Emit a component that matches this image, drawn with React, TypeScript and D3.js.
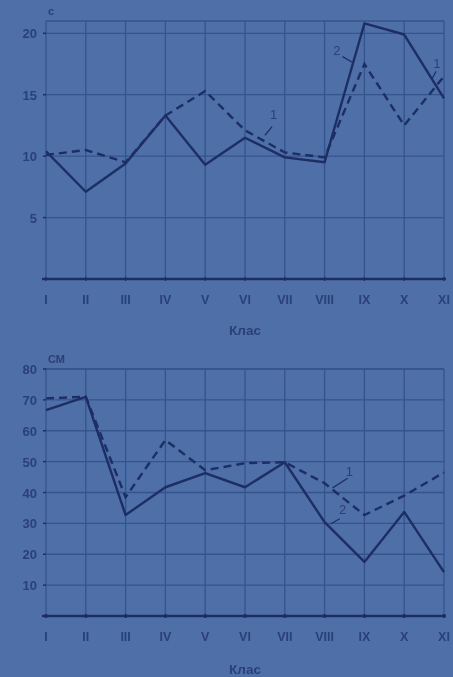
import React, { useEffect } from "react";
import * as d3 from "d3";

const classes = ["I", "II", "III", "IV", "V", "VI", "VII", "VIII", "IX", "X", "XI"];

// top chart: run time, seconds
const runTicks = [5, 10, 15, 20];
const runSeries1 = [10.1, 10.5, 9.5, 13.3, 15.3, 12.1, 10.3, 9.9, 17.5, 12.5, 16.5];
const runSeries2 = [10.4, 7.1, 9.4, 13.3, 9.3, 11.5, 9.9, 9.5, 20.8, 19.9, 14.7];

// bottom chart: jump, cm
const jumpTicks = [10, 20, 30, 40, 50, 60, 70, 80];
const jumpSeries1 = [70.5, 71, 38.5, 57, 47.2, 49.5, 49.8, 43, 32.7, 39, 46.5];
const jumpSeries2 = [66.7, 71, 32.7, 41.7, 46.3, 41.7, 49.8, 30.4, 17.5, 33.7, 14.2];

const BG = "#4e6fa8";
const GRID = "#36528d";
const INK = "#1d2e64";
const TXT = "#2b3f78";

interface Note {
  text: string;
  at: [number, number]; // [class index, value]
  from: [number, number];
  to: [number, number];
}

const runNotes: Note[] = [
  { text: "2", at: [7.31, 18.2], from: [7.45, 18.1], to: [7.72, 17.6] },
  { text: "1", at: [5.72, 13.0], from: [5.68, 12.4], to: [5.5, 11.7] },
  { text: "1", at: [9.82, 17.2], from: [9.8, 16.9], to: [9.7, 16.3] },
];
const jumpNotes: Note[] = [
  { text: "1", at: [7.62, 45.5], from: [7.58, 44.6], to: [7.2, 41.5] },
  { text: "2", at: [7.45, 33.0], from: [7.38, 31.5], to: [7.15, 29.8] },
];

interface PanelProps {
  top: number;
  bottom: number;
  yMax: number;
  ticks: number[];
  s1: number[];
  s2: number[];
  unit: string;
  notes: Note[];
  dots: boolean;
}

const Panel: React.FC<PanelProps> = ({ top, bottom, yMax, ticks, s1, s2, unit, notes, dots }) => {
  const x = d3.scaleLinear().domain([0, classes.length - 1]).range([46, 444]);
  const y = d3.scaleLinear().domain([0, yMax]).range([bottom, top]);
  const line = d3
    .line<number>()
    .x((_, i) => x(i))
    .y((d) => y(d));

  return (
    <g>
      {/* horizontal grid */}
      {[...ticks, yMax].map((t, i) => (
        <line key={"h" + i} x1={x(0)} x2={x(10)} y1={y(t)} y2={y(t)} stroke={GRID} strokeWidth={1.3} />
      ))}
      {/* vertical grid */}
      {classes.map((c, i) => (
        <line key={"v" + c} x1={x(i)} x2={x(i)} y1={y(yMax)} y2={y(0)} stroke={GRID} strokeWidth={1.3} />
      ))}
      {/* y ticks */}
      {ticks.map((t) => (
        <g key={"t" + t}>
          <line x1={x(0) - 3} x2={x(0)} y1={y(t)} y2={y(t)} stroke={INK} strokeWidth={1.5} />
          <text x={37} y={y(t) + 5} textAnchor="end" fontSize={13} fontWeight="bold" fill={TXT}>
            {t}
          </text>
        </g>
      ))}
      <text x={x(0) + 2} y={y(yMax) - 6} fontSize={11} fontWeight="bold" fill={TXT}>
        {unit}
      </text>
      {/* x axis */}
      <line x1={x(0) - 4} x2={x(10) + 2} y1={y(0)} y2={y(0)} stroke={INK} strokeWidth={2.4} />
      {classes.map((c, i) => (
        <g key={"x" + c}>
          {dots ? (
            <circle cx={x(i)} cy={y(0)} r={1.9} fill={INK} />
          ) : (
            <line x1={x(i)} x2={x(i)} y1={y(0) - 2} y2={y(0) + 2} stroke={INK} strokeWidth={1.3} />
          )}
          <text x={x(i)} y={y(0) + 25} textAnchor="middle" fontSize={12.5} fontWeight="bold" fill={TXT}>
            {c}
          </text>
        </g>
      ))}
      <text
        x={x(5)}
        y={y(0) + (dots ? 58 : 56)}
        textAnchor="middle"
        fontSize={13.5}
        fontWeight="bold"
        fill={TXT}
      >
        Клас
      </text>
      {/* series */}
      <path d={line(s1) ?? ""} fill="none" stroke={INK} strokeWidth={2.4} strokeDasharray="8 5" />
      <path d={line(s2) ?? ""} fill="none" stroke={INK} strokeWidth={2.4} strokeLinejoin="round" />
      {notes.map((n, i) => (
        <g key={"n" + i}>
          <line
            x1={x(n.from[0])}
            y1={y(n.from[1])}
            x2={x(n.to[0])}
            y2={y(n.to[1])}
            stroke={INK}
            strokeWidth={1.2}
          />
          <text x={x(n.at[0])} y={y(n.at[1])} textAnchor="middle" fontSize={13} fill={TXT}>
            {n.text}
          </text>
        </g>
      ))}
    </g>
  );
};

export default function App() {
  useEffect(() => {
    document.body.style.margin = "0";
  }, []);

  return (
    <svg
      width={453}
      height={677}
      style={{ display: "block", fontFamily: "'Liberation Sans', Arial, sans-serif" }}
    >
      <defs>
        <filter id="soft">
          <feGaussianBlur stdDeviation={0.7} />
        </filter>
      </defs>
      <rect width={453} height={677} fill={BG} />
      <g filter="url(#soft)">
        <Panel
          top={21}
          bottom={279}
          yMax={21}
          ticks={runTicks}
          s1={runSeries1}
          s2={runSeries2}
          unit="с"
          notes={runNotes}
          dots={false}
        />
        <Panel
          top={369}
          bottom={616}
          yMax={80}
          ticks={jumpTicks}
          s1={jumpSeries1}
          s2={jumpSeries2}
          unit="СМ"
          notes={jumpNotes}
          dots={true}
        />
      </g>
    </svg>
  );
}
